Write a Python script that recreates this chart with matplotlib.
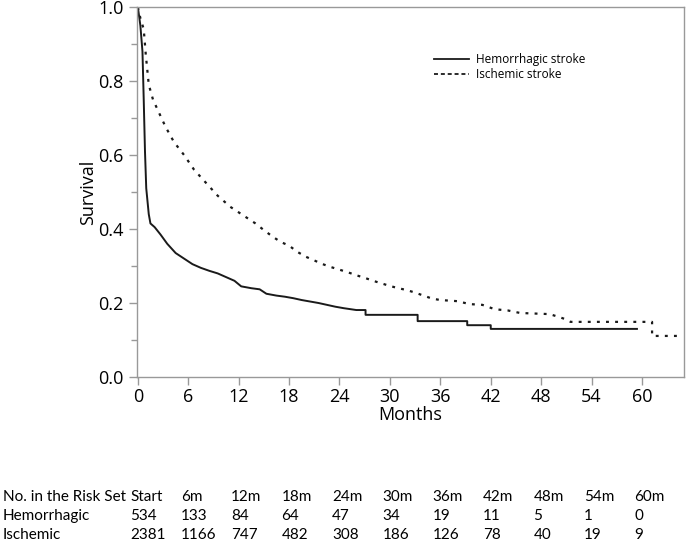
import matplotlib.pyplot as plt
from matplotlib.lines import Line2D
from matplotlib.ticker import MultipleLocator
from matplotlib.transforms import blended_transform_factory

# Kaplan-Meier curves (months, survival);
# repeated months mark the visible steps
hem_months = [0, 0.3, 0.55, 0.7, 0.85, 1.0, 1.3, 1.5, 2.0, 2.7, 3.5, 4.5, 5.5, 6.5,
              7.5, 8.5, 9.5, 10.5, 11.5, 12.3, 13.5, 14.5, 15.3, 16.5, 17.5, 18.5,
              19.5, 20.5, 21.5, 22.5, 23.5, 24.5, 26, 27.1, 27.1, 33.3, 33.3, 39.2,
              39.2, 42.0, 42.0, 59.4]
hem_surv = [1.0, 0.95, 0.88, 0.75, 0.61, 0.51, 0.44, 0.415, 0.405, 0.385, 0.36, 0.335,
            0.32, 0.305, 0.295, 0.287, 0.28, 0.27, 0.26, 0.245, 0.24, 0.237, 0.225,
            0.22, 0.217, 0.213, 0.208, 0.204, 0.2, 0.195, 0.19, 0.186, 0.181, 0.181,
            0.168, 0.168, 0.151, 0.151, 0.14, 0.14, 0.13, 0.13]

isc_months = [0, 0.3, 0.7, 0.95, 1.3, 1.8, 2.4, 3.3, 4.3, 5.5, 6.7, 8.3, 9.5, 11, 12,
              13, 14, 15, 16, 17, 18, 19, 20, 21, 22, 23, 24, 25, 26, 27, 28, 29, 30,
              31, 32, 33, 34, 35, 36, 38, 39.5, 41, 42.5, 44, 45.5, 49, 50, 50.8, 51.5,
              61.2, 61.2, 64.5]
isc_surv = [1.0, 0.97, 0.94, 0.87, 0.79, 0.75, 0.72, 0.676, 0.635, 0.6, 0.56, 0.52,
            0.49, 0.46, 0.445, 0.43, 0.415, 0.397, 0.38, 0.365, 0.355, 0.338, 0.325,
            0.315, 0.305, 0.297, 0.29, 0.283, 0.275, 0.268, 0.26, 0.253, 0.246, 0.24,
            0.235, 0.228, 0.22, 0.212, 0.208, 0.205, 0.197, 0.195, 0.183, 0.18, 0.173,
            0.17, 0.163, 0.157, 0.149, 0.149, 0.111, 0.111]

# risk table
risk_times = [0, 6, 12, 18, 24, 30, 36, 42, 48, 54, 60]
risk_headers = ['Start', '6m', '12m', '18m', '24m', '30m', '36m', '42m', '48m', '54m', '60m']
risk_hem = [534, 133, 84, 64, 47, 34, 19, 11, 5, 1, 0]
risk_isc = [2381, 1166, 747, 482, 308, 186, 126, 78, 40, 19, 9]

plt.rcParams['font.family'] = ['Open Sans', 'DejaVu Sans']

fig = plt.figure(figsize=(6.88, 5.42), dpi=100)
ax = fig.add_axes([137 / 688, 1 - 377 / 542, 547 / 688, 370 / 542])

ax.plot(hem_months, hem_surv, color='#1a1a1a', lw=1.4)
ax.plot(isc_months, isc_surv, color='#1a1a1a', lw=1.6, dashes=(1.3, 2.8))

ax.set_xlim(-0.1, 65)
ax.set_ylim(0, 1.0)
ax.set_xticks(range(0, 61, 6))
ax.yaxis.set_major_locator(MultipleLocator(0.2))
ax.yaxis.set_minor_locator(MultipleLocator(0.1))
ax.yaxis.set_major_formatter(lambda v, p: f'{v:.1f}')

for s in ax.spines.values():
    s.set_color('#999999')
    s.set_linewidth(1.0)
ax.tick_params(colors='#999999', labelcolor='black', labelsize=13, length=6, width=1)
ax.tick_params(axis='y', which='minor', colors='#999999', length=4, width=1)
ax.tick_params(axis='x', pad=2)

ax.set_xlabel('Months', fontsize=13, labelpad=0)
ax.set_ylabel('Survival', fontsize=13)
ax.yaxis.set_label_coords(-0.073, 0.5)

handles = [Line2D([], [], color='#1a1a1a', lw=1.3),
           Line2D([], [], color='#1a1a1a', lw=1.3, dashes=(2.2, 1.6))]
ax.legend(handles, ['Hemorrhagic stroke', 'Ischemic stroke'], frameon=False,
          fontsize=8.5, loc='upper right', bbox_to_anchor=(0.84, 0.905),
          handlelength=3.0, handletextpad=0.6, labelspacing=0.2)

# number at risk below the chart
tr = blended_transform_factory(ax.transData, fig.transFigure)
rows = [('No. in the Risk Set', risk_headers, 1 - 497 / 542),
        ('Hemorrhagic', risk_hem, 1 - 516 / 542),
        ('Ischemic', risk_isc, 1 - 535 / 542)]
for label, vals, y in rows:
    fig.text(3 / 688, y, label, fontsize=11, va='center', family=['Lato', 'DejaVu Sans'])
    for t, v in zip(risk_times, vals):
        ax.text(t - 0.9, y, str(v), transform=tr, fontsize=11, va='center',
                ha='left', family=['Lato', 'DejaVu Sans'], clip_on=False)

fig.savefig('out.png', dpi=100)
